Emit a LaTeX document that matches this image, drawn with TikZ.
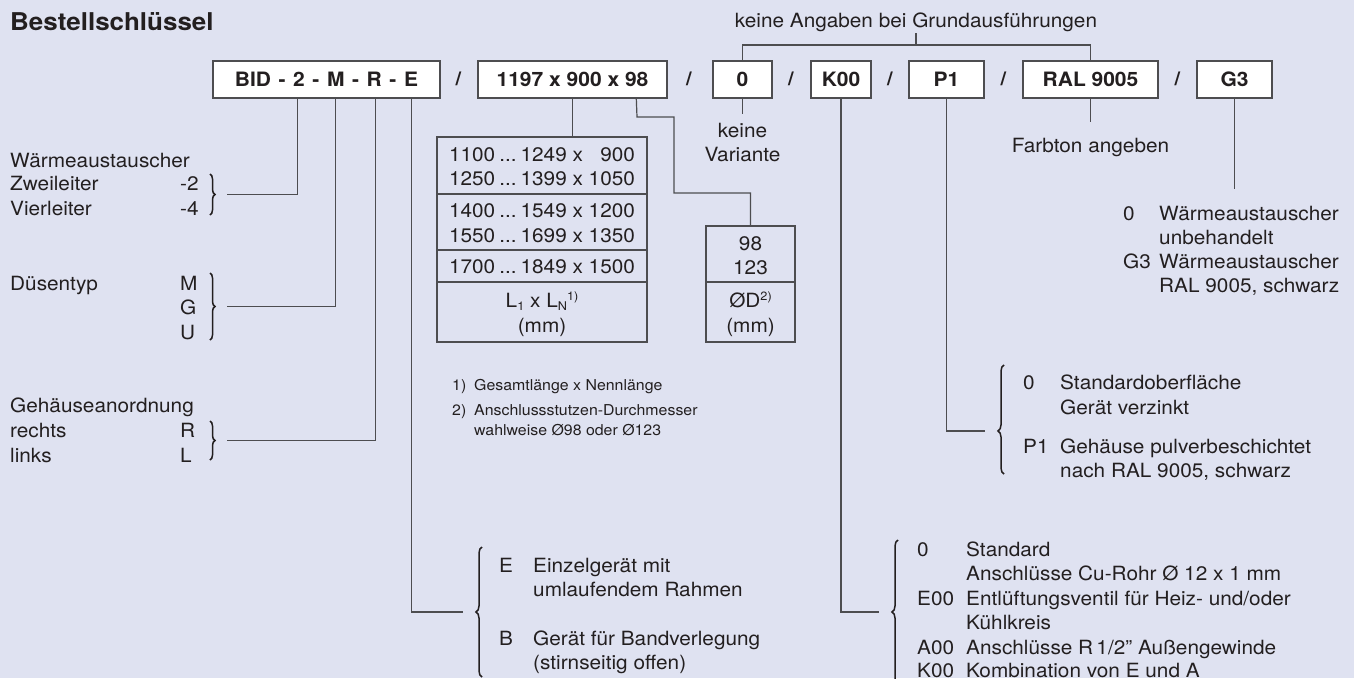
\documentclass[tikz,border=0pt]{standalone}
\usepackage{fontspec}
\setmainfont{TeX Gyre Heros}[FakeStretch=1.06]
\usetikzlibrary{decorations.pathreplacing}
\definecolor{bg}{RGB}{223,226,241}
\definecolor{ink}{RGB}{35,31,32}
\definecolor{rule}{RGB}{77,77,80}
\newcommand\fnorm{\fontsize{19.6}{24.4}\selectfont}
\newcommand\fkey{\fontsize{19.8}{24}\selectfont\bfseries}
\newcommand\ftitle{\fontsize{24.5}{28}\selectfont\bfseries}
\newcommand\fnote{\fontsize{15}{18}\selectfont}
\newcommand\fslash{\fontsize{19}{20}\selectfont\bfseries}
\newcommand\tief[1]{\raisebox{-3pt}{\fontsize{12}{12}\selectfont #1}}
\newcommand\hoch[1]{\raisebox{7pt}{\fontsize{12}{12}\selectfont #1}}
\newcommand\rng[3]{#1\hspace{4pt}...\hspace{4pt}#2 x #3}
\newcommand\gp{\hspace{7.6pt}}
\tikzset{
  key/.style={draw=rule, line width=1.4pt, fill=white, inner sep=0pt,
    minimum height=37pt, font=\fkey, text=ink},
  txt/.style={anchor=base west, inner sep=0pt, font=\fnorm, text=ink},
  ctxt/.style={anchor=base, inner sep=0pt, font=\fnorm, text=ink},
  note/.style={anchor=base west, inner sep=0pt, font=\fnote, text=ink},
  slash/.style={anchor=base, inner sep=0pt, font=\fslash, text=ink},
  link/.style={draw=rule, line width=1.2pt},
  frame/.style={draw=rule, line width=1.4pt, inner sep=0pt},
  rbrace/.style={decorate, decoration={brace, amplitude=5pt}, draw=ink, line width=1.5pt},
  lbrace/.style={decorate, decoration={brace, amplitude=6pt, aspect=#1}, draw=ink, line width=1.5pt},
  lbrace/.default=0.5
}
\begin{document}
\begin{tikzpicture}[x=1pt, y=-1pt]
\useasboundingbox (0,0) rectangle (1354,678);
\fill[bg] (0,0) rectangle (1354,678);
\clip (0,0) rectangle (1354,678);

% title
\node[anchor=base west, inner sep=0pt, font=\ftitle, text=ink] (title) at (10,30) {Bestellschlüssel};

% order key
\node[key, minimum width=227pt] (bid) at (326.5,79.5) {BID\gp-\gp2\gp-\gp M\gp-\gp R\gp-\gp E};
\node[key, minimum width=189pt] (dim) at (572.5,79.5) {1197 x 900 x 98};
\node[key, minimum width=59pt]  (var) at (742.5,79.5) {0};
\node[key, minimum width=60pt]  (k)   at (841,79.5)   {K00};
\node[key, minimum width=75pt]  (p)   at (946.5,79.5) {P1};
\node[key, minimum width=135pt] (ral) at (1090.5,79.5) {RAL 9005};
\node[key, minimum width=75pt]  (g)   at (1234.5,79.5) {G3};
\node[slash] (s1) at (458.5,85) {/};
\node[slash] (s2) at (689,85) {/};
\node[slash] (s3) at (791,85) {/};
\node[slash] (s4) at (890,85) {/};
\node[slash] (s5) at (1003.5,85) {/};
\node[slash] (s6) at (1177.5,85) {/};

% basic versions
\node[ctxt, inner sep=2pt] (grund) at (916,27) {keine Angaben bei Grundausführungen};
\coordinate (bar) at (916,45);
\draw[link] (grund.south) -- (bar);
\draw[link] (var.north) -- (var.north |- bar) -- (ral.north |- bar) -- (ral.north);

% heat exchanger
\node[txt] (wa) at (10,167) {Wärmeaustauscher};
\node[txt] (zw) at (10,190) {Zweileiter};
\node[txt] (zw2) at (180,190) {-2};
\node[txt] (vi) at (10,215) {Vierleiter};
\node[txt] (vi4) at (180,215) {-4};
\draw[rbrace] (210,174) -- (210,215);
\coordinate (wl) at (227,194.5);
\draw[link] (wl) -| ([xshift=85pt]bid.south west);

% nozzle type
\node[txt] (du) at (10,290) {Düsentyp};
\node[txt] (dm) at (180,290) {M};
\node[txt] (dg) at (180,314) {G};
\node[txt] (dd) at (180,339) {U};
\draw[rbrace] (210,273) -- (210,340);
\coordinate (dl) at (227,306.5);
\draw[link] (dl) -| ([xshift=123pt]bid.south west);

% housing arrangement
\node[txt] (ge) at (10,412) {Gehäuseanordnung};
\node[txt] (re) at (10,437) {rechts};
\node[txt] (rr) at (180,437) {R};
\node[txt] (li) at (10,462) {links};
\node[txt] (ll) at (180,462) {L};
\draw[rbrace] (210,421) -- (210,460);
\coordinate (gl) at (227,440.5);
\draw[link] (gl) -| ([xshift=163pt]bid.south west);

% unit type
\coordinate (el) at (463,612);
\draw[link] ([xshift=199pt]bid.south west) |- (el);
\draw[lbrace] (482,677) -- (482,547);
\node[txt] (ee) at (499,572) {E};
\node[txt] at (533,572) {Einzelgerät mit};
\node[txt] at (533,596) {umlaufendem Rahmen};
\node[txt] (eb) at (499,645) {B};
\node[txt] at (533,645) {Gerät für Bandverlegung};
\node[txt] at (533,669) {(stirnseitig offen)};

% size table
\node[frame, minimum width=210pt, minimum height=205pt] (tab) at (542,239.5) {};
\draw[link] (dim.south) -- (dim.south |- tab.north);
\draw[link, line width=1.4pt] (tab.west |- 0,194) -- (tab.east |- 0,194);
\draw[link, line width=1.4pt] (tab.west |- 0,250) -- (tab.east |- 0,250);
\draw[link, line width=1.4pt] (tab.west |- 0,282) -- (tab.east |- 0,282);
\node[ctxt] at (542,161) {\rng{1100}{1249}{\hphantom{0}900}};
\node[ctxt] at (542,185) {\rng{1250}{1399}{1050}};
\node[ctxt] at (542,217) {\rng{1400}{1549}{1200}};
\node[ctxt] at (542,242) {\rng{1550}{1699}{1350}};
\node[ctxt] at (542,273) {\rng{1700}{1849}{1500}};
\node[ctxt] at (542,307) {L\tief{1} x L\tief{N}\hoch{1)}};
\node[ctxt] at (542,332) {(mm)};

% connection diameter
\node[frame, minimum width=89pt, minimum height=116pt] (dia) at (750.5,284) {};
\draw[link] ([xshift=159pt]dim.south west) -- (637,117) -- (674,117) -- (674,193) -| (dia.north);
\draw[link, line width=1.4pt] (dia.west |- 0,282) -- (dia.east |- 0,282);
\node[ctxt] at (750.5,250) {98};
\node[ctxt] at (750.5,274) {123};
\node[ctxt] at (750.5,307) {ØD\hoch{2)}};
\node[ctxt] at (750.5,332) {(mm)};

% footnotes
\node[note] at (452,390) {1)};
\node[note] at (474,390) {Gesamtlänge x Nennlänge};
\node[note] at (452,415) {2)};
\node[note] at (474,415) {Anschlussstutzen-Durchmesser};
\node[note] at (474,435) {wahlweise Ø98 oder Ø123};

% variant
\draw[link] (var.south) -- ++(0,15);
\node[ctxt] (kv1) at (742.5,137) {keine};
\node[ctxt] (kv2) at (742.5,161) {Variante};

% connections
\coordinate (kl) at (879,612);
\draw[link] (k.south) |- (kl);
\draw[lbrace] (898,684) -- (898,540);
\node[txt] at (917,556) {0};
\node[txt] at (966,556) {Standard};
\node[txt] at (966,580) {Anschlüsse Cu-Rohr Ø 12 x 1 mm};
\node[txt] at (917,605) {E00};
\node[txt] at (966,605) {Entlüftungsventil für Heiz- und/oder};
\node[txt] at (966,629) {Kühlkreis};
\node[txt] at (917,654) {A00};
\node[txt] at (966,654) {Anschlüsse R\,1/2” Außengewinde};
\node[txt] at (917,677) {K00};
\node[txt] at (966,677) {Kombination von E und A};

% housing surface
\coordinate (pl) at (985,431);
\draw[link] (p.south) |- (pl);
\draw[lbrace=0.395] (1004,474) -- (1004,365);
\node[txt] at (1023,389) {0};
\node[txt] at (1060,389) {Standardoberfläche};
\node[txt] at (1060,414) {Gerät verzinkt};
\node[txt] at (1023,453) {P1};
\node[txt] at (1060,453) {Gehäuse pulverbeschichtet};
\node[txt] at (1060,477) {nach RAL 9005, schwarz};

% colour
\draw[link] (ral.south) -- ++(0,23);
\node[ctxt] (fa) at (1090.5,152) {Farbton angeben};

% heat exchanger coating
\draw[link] (g.south) -- ++(0,90);
\node[txt] at (1123,220) {0};
\node[txt] at (1159,220) {Wärmeaustauscher};
\node[txt] at (1159,244) {unbehandelt};
\node[txt] at (1123,268) {G3};
\node[txt] at (1159,268) {Wärmeaustauscher};
\node[txt] at (1159,292) {RAL 9005, schwarz};
\end{tikzpicture}
\end{document}
